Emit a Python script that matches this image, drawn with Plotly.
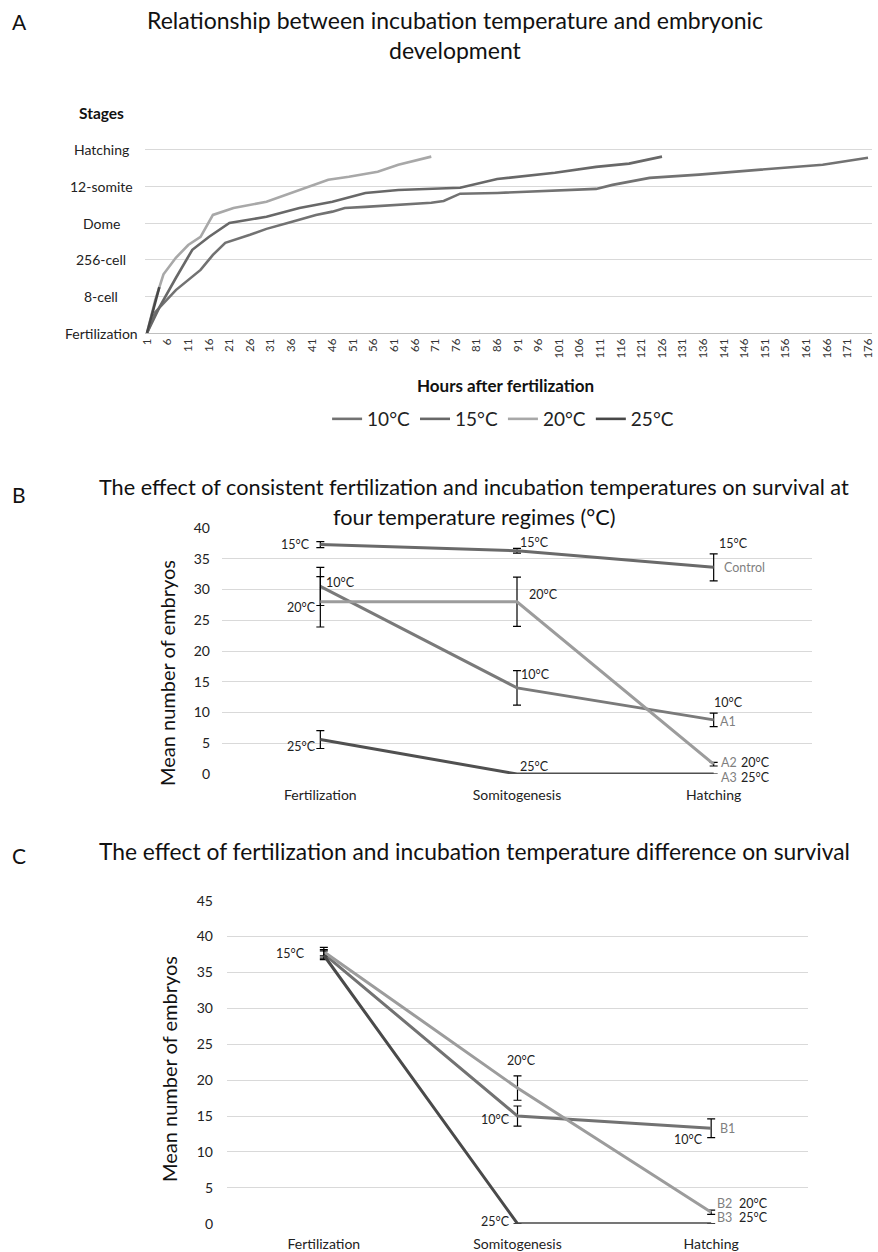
import plotly.graph_objects as go

W, H = 878, 1252
FONT = "Lato"

# ---------------- Panel A data ----------------
stage_levels = [0, 1, 2, 3, 4, 5, 6]
stage_labels = ["Fertilization", "8-cell", "256-cell", "Dome", "12-somite", "Hatching", "Stages"]
hour_ticks = list(range(1, 177, 5))

a_names = ["10°C", "15°C", "20°C", "25°C"]
a_colors = ["#727272", "#686868", "#a8a8a8", "#484848"]

h10 = [1, 3, 8, 14, 17, 20, 26, 30, 36, 42, 46, 49, 54, 62, 70, 73, 77, 86, 98, 110, 114, 123, 135, 147, 155, 165, 176]
s10 = [0, 0.57, 1.17, 1.72, 2.13, 2.46, 2.68, 2.84, 3.03, 3.22, 3.31, 3.41, 3.44, 3.5, 3.55, 3.6, 3.8, 3.82, 3.88, 3.93, 4.04, 4.23, 4.32, 4.43, 4.51, 4.59, 4.78]

h15 = [1, 4, 8, 12, 16, 21, 30, 38, 46, 54, 62, 70, 77, 86, 100, 110, 118, 126]
s15 = [0, 0.7, 1.5, 2.27, 2.62, 3.0, 3.17, 3.41, 3.58, 3.82, 3.9, 3.93, 3.96, 4.2, 4.37, 4.53, 4.62, 4.81]

h20 = [1, 3, 5, 8, 11, 14, 17, 22, 30, 38, 45, 50, 57, 62, 66, 70]
s20 = [0, 0.9, 1.6, 2.05, 2.4, 2.62, 3.22, 3.41, 3.58, 3.9, 4.18, 4.26, 4.4, 4.59, 4.7, 4.81]

h25 = [1, 4]
s25 = [0, 1.25]

a_hours = [h10, h15, h20, h25]
a_stages = [s10, s15, s20, s25]

# ---------------- Panel B data ----------------
phases = ["Fertilization", "Somitogenesis", "Hatching"]
b_names = ["15°C", "10°C", "20°C", "25°C"]
b_colors = ["#6a6a6a", "#7a7a7a", "#9c9c9c", "#505050"]
b_means = [
    [37.3, 36.3, 33.6],
    [30.5, 14.0, 8.8],
    [28.0, 28.0, 1.6],
    [5.6, 0.0, 0.0],
]
b_err = [
    [0.5, 0.4, 2.2],
    [3.1, 2.8, 1.1],
    [4.1, 4.0, 0.3],
    [1.45, 0.0, 0.0],
]

# ---------------- Panel C data ----------------
c_names = ["10°C", "20°C", "25°C"]
c_colors = ["#727272", "#9c9c9c", "#4a4a4a"]
c_means = [
    [37.6, 15.0, 13.3],
    [37.9, 18.9, 1.6],
    [37.4, 0.0, 0.0],
]
c_err = [
    [0.6, 1.4, 1.3],
    [0.6, 1.7, 0.3],
    [0.6, 0.0, 0.0],
]


def px_x(p0, p1):
    return [p0 / W, p1 / W]


def px_y(top, bottom):
    return [1 - bottom / H, 1 - top / H]


fig = go.Figure()

for name, col, hh, ss in zip(a_names, a_colors, a_hours, a_stages):
    fig.add_trace(go.Scatter(
        x=hh, y=ss, mode="lines", name=name,
        line=dict(color=col, width=2.6),
        xaxis="x", yaxis="y", showlegend=True,
    ))

for name, col, m, e in zip(b_names, b_colors, b_means, b_err):
    fig.add_trace(go.Scatter(
        x=[0, 1, 2], y=m, mode="lines", name=name,
        line=dict(color=col, width=3),
        error_y=dict(type="data", array=e, color="black", thickness=1.2, width=4),
        xaxis="x2", yaxis="y2", showlegend=False,
    ))

for name, col, m, e in zip(c_names, c_colors, c_means, c_err):
    fig.add_trace(go.Scatter(
        x=[0, 1, 2], y=m, mode="lines", name=name,
        line=dict(color=col, width=3),
        error_y=dict(type="data", array=e, color="black", thickness=1.2, width=4),
        xaxis="x3", yaxis="y3", showlegend=False,
    ))

grid = "#d9d9d9"
tickfont = dict(family=FONT, size=14, color="#222")

fig.update_layout(
    template="none",
    width=W, height=H,
    margin=dict(l=0, r=0, t=0, b=0, pad=0, autoexpand=False),
    paper_bgcolor="white", plot_bgcolor="white",
    font=dict(family=FONT, color="#111"),
    legend=dict(orientation="h", x=0.573, xanchor="center", y=1 - 419 / H, yanchor="middle",
                font=dict(family=FONT, size=19, color="#222"), itemwidth=30, tracegroupgap=0,
                bgcolor="rgba(0,0,0,0)"),
    xaxis=dict(domain=px_x(145, 872), range=[0.515, 176.97], tickvals=hour_ticks,
               ticktext=[str(t) for t in hour_ticks], tickangle=-90,
               tickfont=dict(family=FONT, size=11.5, color="#333"),
               showgrid=False, zeroline=False, showline=True, linecolor="#bfbfbf", linewidth=1,
               ticks="", anchor="y", automargin=False),
    yaxis=dict(domain=px_y(113, 333), range=[0, 6], tickvals=stage_levels, showticklabels=False,
               showgrid=True, gridcolor=grid,
               zeroline=False, showline=False, ticks="", anchor="x", automargin=False),
    xaxis2=dict(domain=px_x(222, 812), range=[-0.5, 2.5], tickvals=[0, 1, 2], ticktext=phases,
                tickfont=tickfont, showgrid=False, zeroline=False, showline=False, ticks="",
                ticklabelstandoff=11, anchor="y2", automargin=False),
    yaxis2=dict(domain=px_y(528, 774), range=[0, 40], dtick=5, tickfont=tickfont,
                showgrid=True, gridcolor=grid, zeroline=False, showline=False, ticks="",
                ticklabelstandoff=11, anchor="x2", automargin=False),
    xaxis3=dict(domain=px_x(227, 808), range=[-0.5, 2.5], tickvals=[0, 1, 2], ticktext=phases,
                tickfont=tickfont, showgrid=False, zeroline=False, showline=False, ticks="",
                ticklabelstandoff=10, anchor="y3", automargin=False),
    yaxis3=dict(domain=px_y(900.7, 1223.7), range=[0, 45], dtick=5, tickfont=tickfont,
                showgrid=True, gridcolor=grid, zeroline=False, showline=False, ticks="",
                ticklabelstandoff=13, anchor="x3", automargin=False),
)

ann = []


def paper_text(x, y, text, size, bold=False, xanchor="center", angle=0):
    t = f"<b>{text}</b>" if bold else text
    ann.append(dict(x=x / W, y=1 - y / H, xref="paper", yref="paper", text=t, showarrow=False,
                    xanchor=xanchor, yanchor="middle", textangle=angle,
                    font=dict(family=FONT, size=size, color="#111")))


paper_text(10, 22, "A", 21, xanchor="left")
paper_text(10, 495, "B", 21, xanchor="left")
paper_text(10, 855, "C", 21, xanchor="left")
paper_text(455, 20, "Relationship between incubation temperature and embryonic", 23)
paper_text(455, 50, "development", 23)
paper_text(474, 487, "The effect of consistent fertilization and incubation temperatures on survival at", 21.7)
paper_text(474, 517, "four temperature regimes (°C)", 21.7)
paper_text(475, 851, "The effect of fertilization and incubation temperature difference on survival", 22.8)
paper_text(505, 385, "Hours after fertilization", 17, bold=True)
paper_text(167, 673, "Mean number of embryos", 20, angle=-90)
paper_text(169, 1069, "Mean number of embryos", 20, angle=-90)

# Panel A stage labels (centred, as in the original)
for lvl, lab in zip(stage_levels, stage_labels):
    is_title = lab == "Stages"
    ann.append(dict(x=101 / W, y=lvl, xref="paper", yref="y",
                    text=f"<b>{lab}</b>" if is_title else lab, showarrow=False,
                    xanchor="center", yanchor="middle",
                    font=dict(family=FONT, size=15.5 if is_title else 14, color="#111" if is_title else "#222")))

GRAY = "#7f7f7f"


def data_text(xr, yr, x, y, text, xanchor, xs, ys, color="#222", size=12.5):
    ann.append(dict(x=x, y=y, xref=xr, yref=yr, text=text, showarrow=False, xanchor=xanchor,
                    yanchor="middle", xshift=xs, yshift=ys, font=dict(family=FONT, size=size, color=color)))


for x, y, t, xa, xs, ys, c in [
    (0, 37.3, "15°C", "right", -8, 0, "#222"),
    (1, 36.3, "15°C", "left", 1, 8, "#222"),
    (2, 33.6, "15°C", "left", 3, 24, "#222"),
    (2, 33.6, "Control", "left", 8, 0, GRAY),
    (0, 30.5, "10°C", "left", 4, 4, "#222"),
    (0, 28.0, "20°C", "right", -2, -6, "#222"),
    (1, 28.0, "20°C", "left", 10, 7, "#222"),
    (1, 14.0, "10°C", "left", 2, 13, "#222"),
    (2, 8.8, "10°C", "left", -2, 17, "#222"),
    (2, 8.8, "A1", "left", 4, -2, GRAY),
    (2, 1.6, "A2", "left", 5, 2, GRAY),
    (2, 1.6, "20°C", "left", 25, 2, "#222"),
    (2, 0, "A3", "left", 5, -4, GRAY),
    (2, 0, "25°C", "left", 25, -4, "#222"),
    (0, 5.6, "25°C", "right", -2, -7, "#222"),
    (1, 0, "25°C", "left", 1, 7, "#222"),
]:
    data_text("x2", "y2", x, y, t, xa, xs, ys, c)

for x, y, t, xa, xs, ys, c in [
    (0, 37.7, "15°C", "right", -17, 0, "#222"),
    (1, 18.9, "20°C", "center", 4, 28, "#222"),
    (1, 15.0, "10°C", "right", -6, -3, "#222"),
    (1, 0, "25°C", "right", -6, 2, "#222"),
    (2, 13.3, "10°C", "right", -6, -11, "#222"),
    (2, 13.3, "B1", "left", 7, 0, GRAY),
    (2, 1.6, "B2", "left", 4, 9, GRAY),
    (2, 1.6, "20°C", "left", 26, 9, "#222"),
    (2, 0, "B3", "left", 4, 6, GRAY),
    (2, 0, "25°C", "left", 26, 6, "#222"),
]:
    data_text("x3", "y3", x, y, t, xa, xs, ys, c)

fig.update_layout(annotations=ann)

fig.write_html("out.html", config={"displayModeBar": False, "staticPlot": True},
               post_script="document.body.style.margin='0px';document.body.style.padding='0px';")
